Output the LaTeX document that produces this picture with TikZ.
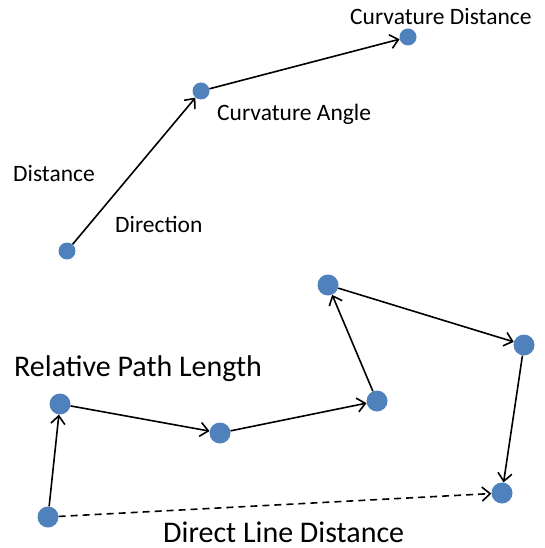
\documentclass[tikz,border=0pt]{standalone}
\usepackage{fontspec}
\setmainfont{Carlito}
\usetikzlibrary{arrows.meta}
\definecolor{dotblue}{RGB}{79,129,189}
\begin{document}
\begin{tikzpicture}[x=1pt,y=-1pt,
  dotS/.style={circle,fill=dotblue,minimum size=17pt,inner sep=0pt},
  dotL/.style={circle,fill=dotblue,minimum size=21pt,inner sep=0pt},
  conn/.style={line width=1.6pt,-{Straight Barb[length=8pt,width=14pt]}},
  lblS/.style={font=\fontsize{23.5}{28}\selectfont,inner sep=0pt,anchor=west},
  lblL/.style={font=\fontsize{30}{34}\selectfont,inner sep=0pt,anchor=west}]
\useasboundingbox (0,0) rectangle (545,548);
% top group
\node[dotS] (a) at (67,251) {};
\node[dotS] (b) at (201,91) {};
\node[dotS] (c) at (408,37) {};
\draw[conn] (a) -- (b);
\draw[conn] (b) -- (c);
\node[lblS] (tcd) at (350,17) {Curvature Distance};
\node[lblS] (tca) at (217,114) {Curvature Angle};
\node[lblS] (tdi) at (13,174) {Distance};
\node[lblS] (tdr) at (115,224) {Direction};
% bottom group
\node[dotL] (d1) at (48,517) {};
\node[dotL] (d2) at (60,404) {};
\node[dotL] (d3) at (220,433) {};
\node[dotL] (d4) at (377,401) {};
\node[dotL] (d5) at (328,285) {};
\node[dotL] (d6) at (524,345) {};
\node[dotL] (d7) at (502,493) {};
\draw[conn] (d1) -- (d2);
\draw[conn] (d2) -- (d3);
\draw[conn] (d3) -- (d4);
\draw[conn] (d4) -- (d5);
\draw[conn] (d5) -- (d6);
\draw[conn] (d6) -- (d7);
\draw[conn,dashed,dash pattern=on 7pt off 5pt] (d1) -- (d7);
\node[lblL] (trp) at (14,369) {Relative Path Length};
\node[lblL] (tdl) at (163,532) {Direct Line Distance};
\end{tikzpicture}
\end{document}
